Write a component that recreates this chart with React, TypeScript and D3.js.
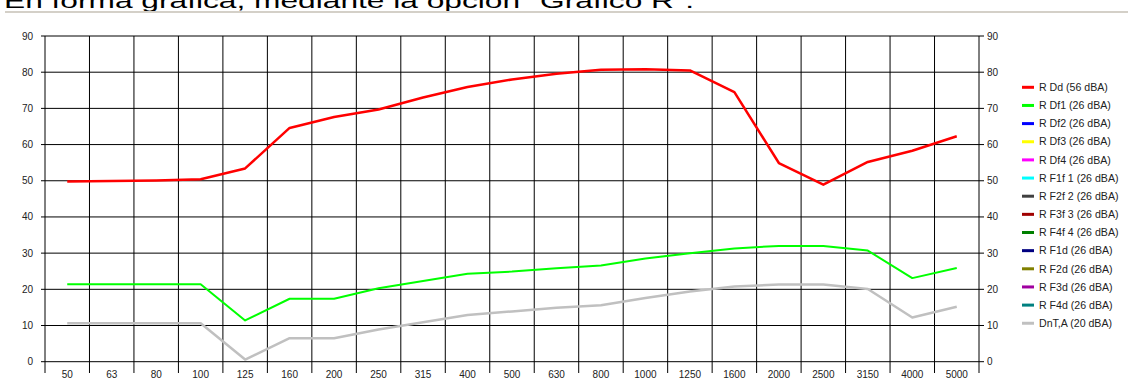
import React from "react";
import * as d3 from "d3";

const categories = ["50","63","80","100","125","160","200","250","315","400","500","630","800","1000","1250","1600","2000","2500","3150","4000","5000"];
const yTicks = [0,10,20,30,40,50,60,70,80,90];

const rDd = [49.8,49.9,50.1,50.4,53.4,64.6,67.6,69.7,73.0,75.9,78.0,79.6,80.7,80.8,80.5,74.5,54.9,48.9,55.2,58.3,62.3];
const rDf1 = [21.4,21.4,21.4,21.4,11.4,17.4,17.4,20.3,22.3,24.3,24.9,25.8,26.6,28.5,30.0,31.3,32.0,32.0,30.7,23.1,25.9];
const dnta = [10.6,10.6,10.6,10.6,0.6,6.5,6.5,8.9,10.9,12.9,13.9,14.9,15.6,17.6,19.4,20.8,21.3,21.3,20.1,12.2,15.2];

const legendNames = ["R Dd (56 dBA)","R Df1 (26 dBA)","R Df2 (26 dBA)","R Df3 (26 dBA)","R Df4 (26 dBA)","R F1f 1 (26 dBA)","R F2f 2 (26 dBA)","R F3f 3 (26 dBA)","R F4f 4 (26 dBA)","R F1d (26 dBA)","R F2d (26 dBA)","R F3d (26 dBA)","R F4d (26 dBA)","DnT,A (20 dBA)"];
const legendColors = ["#ff0000","#00ff00","#0000ff","#ffff00","#ff00ff","#00ffff","#404040","#a00000","#008000","#000080","#808000","#a000a0","#008080","#c0c0c0"];

const FONT = "Arial, 'Liberation Sans', sans-serif";

export default function App() {
  const W = 1128, H = 390;
  const left = 45, right = 979, top = 36, bottom = 361.7;
  const x = d3.scaleBand<string>().domain(categories).range([left, right]).padding(0);
  const y = d3.scaleLinear().domain([0, 90]).range([bottom, top]);
  const bw = x.bandwidth();
  const cx = (i: number) => (x(categories[i]) as number) + bw / 2;
  const line = d3.line<number>().x((_, i) => cx(i)).y((d) => y(d));

  const vLines = categories.map((c) => x(c) as number).concat([right]);

  const series = [
    { data: dnta, color: "#c0c0c0", w: 2.5 },
    { data: rDf1, color: "#00ff00", w: 2 },
    { data: rDd, color: "#ff0000", w: 2.5 },
  ];

  return (
    <svg width={W} height={H} style={{ position: "absolute", left: 0, top: 0, background: "#fff" }}>
      <text x={4} y={8} fontFamily={FONT} fontSize={20} fill="#000" textLength={690} lengthAdjust="spacingAndGlyphs">
        En forma gráfica, mediante la opción "Gráfico R".
      </text>
      <line x1={5} x2={W} y1={12} y2={12} stroke="#d4d0c8" strokeWidth={2} />

      {yTicks.map((t) => (
        <line key={"h" + t} x1={left - 4} x2={right + 5} y1={y(t)} y2={y(t)} stroke="#000" strokeWidth={1} />
      ))}
      {vLines.map((v, i) => (
        <line key={"v" + i} x1={v} x2={v} y1={top} y2={373} stroke="#000" strokeWidth={1} />
      ))}

      {yTicks.map((t) => (
        <g key={"l" + t} fontFamily={FONT} fontSize={10} fill="#222">
          <text x={33} y={y(t)} dy="0.35em" textAnchor="end">{t}</text>
          <text x={987} y={y(t)} dy="0.35em" textAnchor="start">{t}</text>
        </g>
      ))}
      {categories.map((c, i) => (
        <text key={"x" + c} x={cx(i)} y={374} dy="0.35em" textAnchor="middle" fontFamily={FONT} fontSize={10} fill="#222">{c}</text>
      ))}

      {series.map((s, i) => (
        <path key={"s" + i} d={line(s.data) as string} fill="none" stroke={s.color} strokeWidth={s.w} strokeLinejoin="round" />
      ))}

      {legendNames.map((n, i) => {
        const ly = 87.3 + i * 18.15;
        return (
          <g key={"lg" + i}>
            <line x1={1022} x2={1034} y1={ly} y2={ly} stroke={legendColors[i]} strokeWidth={3} />
            <text x={1039} y={ly} dy="0.35em" fontFamily={FONT} fontSize={10.6} fill="#222">{n}</text>
          </g>
        );
      })}
    </svg>
  );
}
